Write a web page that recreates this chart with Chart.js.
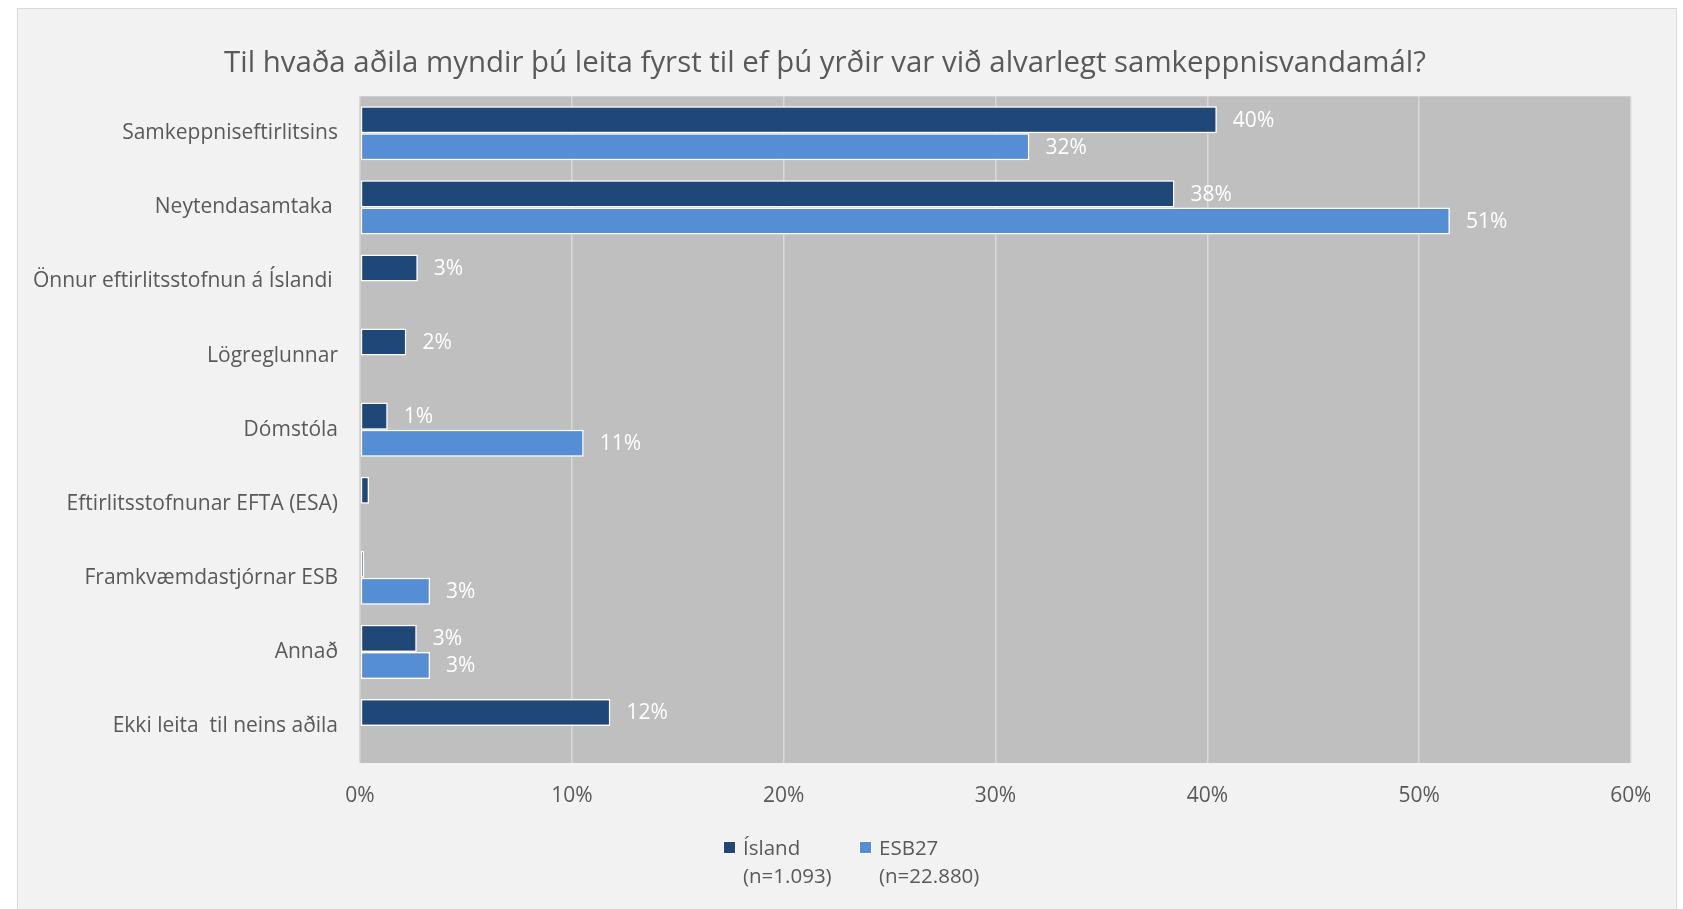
<!DOCTYPE html>
<html>
<head>
<meta charset="utf-8">
<script src="https://cdn.jsdelivr.net/npm/chart.js@4.4.1/dist/chart.umd.min.js"></script>
<style>
  html, body { margin: 0; padding: 0; background: #ffffff; width: 1683px; height: 909px; overflow: hidden; }
  #frame { position: absolute; left: 17px; top: 8px; width: 1660px; height: 910px; background: #f2f2f2; border: 1px solid #d9d9d9; box-sizing: border-box; }
  #wrap { position: absolute; left: 0; top: 0; width: 1650px; height: 909px; }
</style>
</head>
<body>
<div id="frame"></div>
<div id="wrap"><canvas id="c"></canvas></div>
<script>
const titleText = 'Til hvaða aðila myndir þú leita fyrst til ef þú yrðir var við alvarlegt samkeppnisvandamál?';
const categories = [
  'Samkeppniseftirlitsins',
  'Neytendasamtaka ',
  'Önnur eftirlitsstofnun á Íslandi ',
  'Lögreglunnar',
  'Dómstóla',
  'Eftirlitsstofnunar EFTA (ESA)',
  'Framkvæmdastjórnar ESB',
  'Annað',
  'Ekki leita  til neins aðila'
];
const seriesNames = ['Ísland', 'ESB27'];
const seriesN = ['(n=1.093)', '(n=22.880)'];
const islandValues = [40.45, 38.45, 2.73, 2.19, 1.31, 0.43, 0.2, 2.68, 11.82];
const esbValues = [31.6, 51.45, null, null, 10.56, null, 3.31, 3.31, null];
const xTicks = [0, 10, 20, 30, 40, 50, 60];

const colors = ['#1f4878', '#558ed5'];
const textGray = '#595959';
const FONT = "'Open Sans', 'DejaVu Sans', sans-serif";

const plotBg = {
  id: 'plotBg',
  beforeDraw(chart) {
    const a = chart.chartArea, ctx = chart.ctx;
    ctx.save();
    ctx.fillStyle = '#bfbfbf';
    ctx.fillRect(a.left, a.top, a.right - a.left, a.bottom - a.top);
    ctx.restore();
  }
};

const valueLabels = {
  id: 'valueLabels',
  afterDatasetsDraw(chart) {
    const ctx = chart.ctx;
    ctx.save();
    ctx.font = '21px ' + FONT;
    ctx.fillStyle = '#ffffff';
    ctx.textAlign = 'left';
    ctx.textBaseline = 'middle';
    chart.data.datasets.forEach((ds, di) => {
      const meta = chart.getDatasetMeta(di);
      meta.data.forEach((bar, i) => {
        const v = ds.data[i];
        if (v === null || v === undefined || v < 0.5) return;
        ctx.fillText(Math.round(v) + '%', bar.x + 16, bar.y + 1);
      });
    });
    ctx.restore();
  }
};

const customLegend = {
  id: 'customLegend',
  afterDraw(chart) {
    const ctx = chart.ctx;
    ctx.save();
    ctx.font = '20.5px ' + FONT;
    ctx.textAlign = 'left';
    ctx.textBaseline = 'alphabetic';
    const xs = [724, 860];
    seriesNames.forEach((name, i) => {
      const x = xs[i];
      ctx.fillStyle = '#ffffff';
      ctx.fillRect(x - 1, 841, 13, 13);
      ctx.fillStyle = colors[i];
      ctx.fillRect(x, 842, 11, 11);
      ctx.fillStyle = textGray;
      ctx.fillText(name, x + 19, 855);
      ctx.fillText(seriesN[i], x + 19, 883);
    });
    ctx.restore();
  }
};

new Chart(document.getElementById('c'), {
  type: 'bar',
  data: {
    labels: categories,
    datasets: [
      { label: seriesNames[0], data: islandValues, backgroundColor: colors[0], borderColor: '#ffffff', borderWidth: 1.5, borderSkipped: false },
      { label: seriesNames[1], data: esbValues, backgroundColor: colors[1], borderColor: '#ffffff', borderWidth: 1.5, borderSkipped: false }
    ]
  },
  options: {
    indexAxis: 'y',
    responsive: true,
    maintainAspectRatio: false,
    animation: false,
    devicePixelRatio: 1,
    categoryPercentage: 0.73,
    barPercentage: 1.0,
    layout: { padding: { left: 0, right: 0, top: 0, bottom: 0 } },
    plugins: {
      legend: { display: false },
      tooltip: { enabled: false },
      title: {
        display: true,
        text: titleText,
        color: textGray,
        font: { family: FONT, size: 29.4, weight: 'normal', lineHeight: 1.2 },
        padding: { top: 46, bottom: 15 }
      }
    },
    scales: {
      x: {
        type: 'linear',
        min: 0,
        max: 60,
        afterBuildTicks(scale) { scale.ticks = xTicks.map(v => ({ value: v })); },
        afterFit(scale) { scale.height = 146; scale.paddingRight = 19; scale.paddingLeft = 0; },
        ticks: {
          color: textGray,
          font: { family: FONT, size: 21 },
          padding: 20,
          callback: (v) => v + '%'
        },
        grid: { color: '#d9d9d9', lineWidth: 1.5, drawTicks: false },
        border: { display: false }
      },
      y: {
        type: 'category',
        afterFit(scale) { scale.width = 360; scale.paddingTop = 0; scale.paddingBottom = 0; },
        ticks: {
          color: textGray,
          font: { family: FONT, size: 21 },
          padding: 22
        },
        grid: { display: false, drawTicks: false },
        border: { display: false }
      }
    }
  },
  plugins: [plotBg, valueLabels, customLegend]
});
</script>
</body>
</html>
